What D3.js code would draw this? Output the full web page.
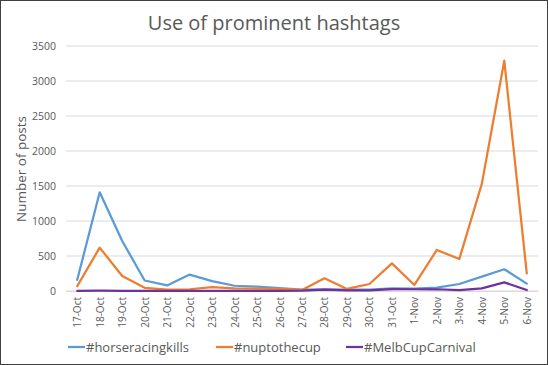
<!DOCTYPE html>
<html><head><meta charset="utf-8">
<script src="https://cdn.jsdelivr.net/npm/d3@7"></script>
<style>
html,body{margin:0;padding:0;background:#fff;}
svg{display:block;font-family:"Open Sans",sans-serif;}
</style></head>
<body>
<svg id="chart" width="548" height="365"></svg>
<script>
const dates = ["17-Oct","18-Oct","19-Oct","20-Oct","21-Oct","22-Oct","23-Oct","24-Oct","25-Oct","26-Oct","27-Oct","28-Oct","29-Oct","30-Oct","31-Oct","1-Nov","2-Nov","3-Nov","4-Nov","5-Nov","6-Nov"];
const horseracingkills = [160,1410,715,150,80,235,140,75,62,40,20,25,20,20,38,35,48,100,205,310,105];
const nuptothecup = [70,620,215,45,18,25,57,38,35,30,15,181,30,100,395,86,586,457,1530,3290,252];
const melbCupCarnival = [3,5,3,3,3,3,3,3,3,3,5,20,10,10,27,25,25,14,38,124,14];
const seriesNames = ["#horseracingkills","#nuptothecup","#MelbCupCarnival"];
const seriesColors = ["#5B9BD5","#ED7D31","#7030A0"];
const yTicks = [0,500,1000,1500,2000,2500,3000,3500];

const svg = d3.select("#chart");
svg.append("rect").attr("x",0.5).attr("y",0.5).attr("width",547).attr("height",364)
  .attr("fill","#fff").attr("stroke","#404040").attr("stroke-width",1);

const x = d3.scalePoint().domain(dates).range([66,538]).padding(0.5);
const y = d3.scaleLinear().domain([0,3500]).range([291,46]);

// gridlines
svg.append("g").selectAll("line").data(yTicks).join("line")
  .attr("x1",66).attr("x2",538)
  .attr("y1",d=>y(d)).attr("y2",d=>y(d))
  .attr("stroke","#d9d9d9").attr("stroke-width",1);

// y axis
const yAxis = svg.append("g").attr("transform","translate(66,0)")
  .call(d3.axisLeft(y).tickValues(yTicks).tickFormat(d3.format("d")).tickSize(0).tickPadding(10));
yAxis.select(".domain").remove();
yAxis.selectAll("text").attr("font-size",10.5).attr("fill","#595959").attr("font-family","Open Sans");

// x axis
const xAxis = svg.append("g").attr("transform","translate(0,291)")
  .call(d3.axisBottom(x).tickSize(0));
xAxis.select(".domain").attr("stroke","#d9d9d9");
xAxis.selectAll("text")
  .attr("font-size",10).attr("fill","#595959").attr("font-family","Open Sans")
  .attr("text-anchor","end")
  .attr("transform","rotate(-90)")
  .attr("dy","0.35em").attr("x",-6).attr("y",0);

// lines
const allSeries = [horseracingkills, nuptothecup, melbCupCarnival];
const line = d3.line().x((d,i)=>x(dates[i])).y(d=>y(d));
allSeries.forEach((s,k)=>{
  svg.append("path").datum(s).attr("d",line)
    .attr("fill","none").attr("stroke",seriesColors[k])
    .attr("stroke-width",2.25).attr("stroke-linejoin","round").attr("stroke-linecap","round");
});

// title
svg.append("text").attr("x",274).attr("y",30).attr("text-anchor","middle")
  .attr("font-size",20).attr("fill","#595959").text("Use of prominent hashtags");

// y axis title
svg.append("text").attr("transform","translate(26,169) rotate(-90)")
  .attr("text-anchor","middle").attr("font-size",13.5).attr("fill","#595959").text("Number of posts");

// legend
const legX = [68,216,346];
const leg = svg.append("g");
seriesNames.forEach((n,k)=>{
  leg.append("line").attr("x1",legX[k]).attr("x2",legX[k]+17).attr("y1",347).attr("y2",347)
    .attr("stroke",seriesColors[k]).attr("stroke-width",2.25);
  leg.append("text").attr("x",legX[k]+18).attr("y",351.5).attr("font-size",13)
    .attr("fill","#595959").text(n);
});
</script>
</body></html>
